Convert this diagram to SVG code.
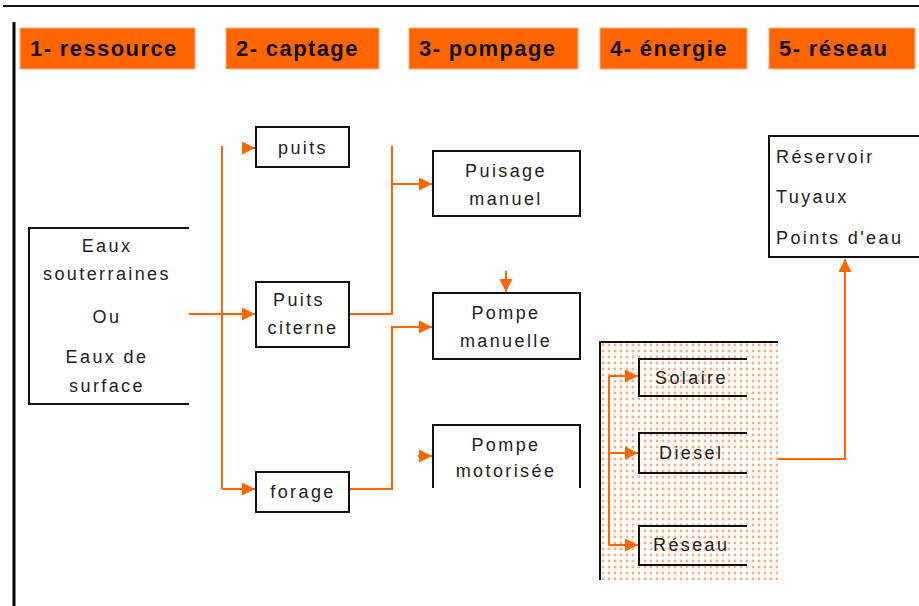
<svg xmlns="http://www.w3.org/2000/svg" width="919" height="606" viewBox="0 0 919 606">
<defs>
<style>
.hdr{fill:#ff6600;stroke:#ffb080;stroke-width:1}
.ht{font-family:"Liberation Sans",Arial,sans-serif;font-weight:bold;font-size:22px;letter-spacing:1.4px;fill:#111}
.box{fill:#fff;stroke:#111;stroke-width:2}
.open{fill:none;stroke:#111;stroke-width:2}
.t{font-family:"Liberation Sans",Arial,sans-serif;font-size:18px;letter-spacing:2.4px;fill:#222;text-anchor:middle}
.tl{font-family:"Liberation Sans",Arial,sans-serif;font-size:18px;letter-spacing:2.4px;fill:#222}
.c{fill:none;stroke:#ff6600;stroke-width:2}
</style>
<marker id="ahb" viewBox="0 0 10 10" refX="10" refY="5" markerWidth="13" markerHeight="13" markerUnits="userSpaceOnUse" orient="auto">
<path d="M0,0 L10,5 L0,10 z" fill="#ff6600"/>
</marker>
<pattern id="dots" width="6" height="6" patternUnits="userSpaceOnUse">
<rect width="6" height="6" fill="#fff"/>
<circle cx="3" cy="3" r="1.4" fill="#ffac78"/>
</pattern>
</defs>

<line x1="3" y1="6" x2="919" y2="6" stroke="#111" stroke-width="2"/>
<line x1="14" y1="22" x2="14" y2="606" stroke="#000" stroke-width="3"/>

<g id="h1"><rect class="hdr" x="20" y="28" width="175" height="41"/><text class="ht" x="30" y="56">1- ressource</text></g>
<g id="h2"><rect class="hdr" x="226" y="28" width="153" height="41"/><text class="ht" x="236" y="56">2- captage</text></g>
<g id="h3"><rect class="hdr" x="409" y="28" width="169" height="41"/><text class="ht" x="419" y="56">3- pompage</text></g>
<g id="h4"><rect class="hdr" x="600" y="28" width="147" height="41"/><text class="ht" x="610" y="56">4- énergie</text></g>
<g id="h5"><rect class="hdr" x="769" y="28" width="146" height="41"/><text class="ht" x="779" y="56">5- réseau</text></g>

<g id="energy-panel">
<rect x="600" y="342" width="178" height="238" fill="url(#dots)"/>
<path d="M600,580 V342 H778" fill="none" stroke="#111" stroke-width="2"/>
</g>

<g id="connectors">
<line class="c" x1="222" y1="146" x2="222" y2="489"/>
<line class="c" x1="189" y1="314" x2="255" y2="314" marker-end="url(#ahb)"/>
<line class="c" x1="243" y1="148" x2="255" y2="148" marker-end="url(#ahb)"/>
<path class="c" d="M222,489 H255" marker-end="url(#ahb)"/>
<path class="c" d="M349,314 H392 V146"/>
<path class="c" d="M392,184 H432" marker-end="url(#ahb)"/>
<path class="c" d="M349,489 H392 V327 H432" marker-end="url(#ahb)"/>
<line class="c" x1="506" y1="271" x2="506" y2="292" marker-end="url(#ahb)"/>
<line class="c" x1="418" y1="456" x2="432" y2="456" marker-end="url(#ahb)"/>
<path class="c" d="M609,376 V545"/>
<path class="c" d="M609,376 H638" marker-end="url(#ahb)"/>
<path class="c" d="M609,453 H638" marker-end="url(#ahb)"/>
<path class="c" d="M609,545 H638" marker-end="url(#ahb)"/>
<path class="c" d="M778,459 H845 V259" marker-end="url(#ahb)"/>
</g>

<g id="ressource">
<path class="open" d="M189,228 H29 V404 H189"/>
<text class="t" x="107" y="252">Eaux</text>
<text class="t" x="107" y="280">souterraines</text>
<text class="t" x="107" y="323">Ou</text>
<text class="t" x="107" y="363">Eaux de</text>
<text class="t" x="107" y="392">surface</text>
</g>

<g id="puits"><rect class="box" x="256" y="127" width="93" height="40"/><text class="t" x="303" y="154">puits</text></g>
<g id="puits-citerne"><rect class="box" x="256" y="282" width="93" height="65"/><text class="t" x="299" y="306">Puits</text><text class="t" x="303" y="334">citerne</text></g>
<g id="forage"><rect class="box" x="256" y="472" width="93" height="40"/><text class="t" x="303" y="498">forage</text></g>

<g id="puisage"><rect class="box" x="433" y="151" width="147" height="65"/><text class="t" x="506" y="177">Puisage</text><text class="t" x="506" y="205">manuel</text></g>
<g id="pompe-manuelle"><rect class="box" x="433" y="293" width="147" height="66"/><text class="t" x="506" y="319">Pompe</text><text class="t" x="506" y="347">manuelle</text></g>
<g id="pompe-motorisee"><path class="open" d="M433,488 V425 H580 V488"/><text class="t" x="506" y="451">Pompe</text><text class="t" x="506" y="477">motorisée</text></g>

<g id="solaire"><path class="open" d="M747,359 H639 V396 H747"/><text class="tl" x="655" y="384">Solaire</text></g>
<g id="diesel"><path class="open" d="M747,433 H639 V473 H747"/><text class="tl" x="659" y="459">Diesel</text></g>
<g id="reseau-energie"><path class="open" d="M747,526 H639 V565 H747"/><text class="tl" x="653" y="551">Réseau</text></g>

<g id="reseau"><path class="open" d="M919,136 H769 V257 H919"/>
<text class="tl" x="776" y="163">Réservoir</text>
<text class="tl" x="776" y="203">Tuyaux</text>
<text class="tl" x="776" y="244">Points d'eau</text>
</g>
</svg>
